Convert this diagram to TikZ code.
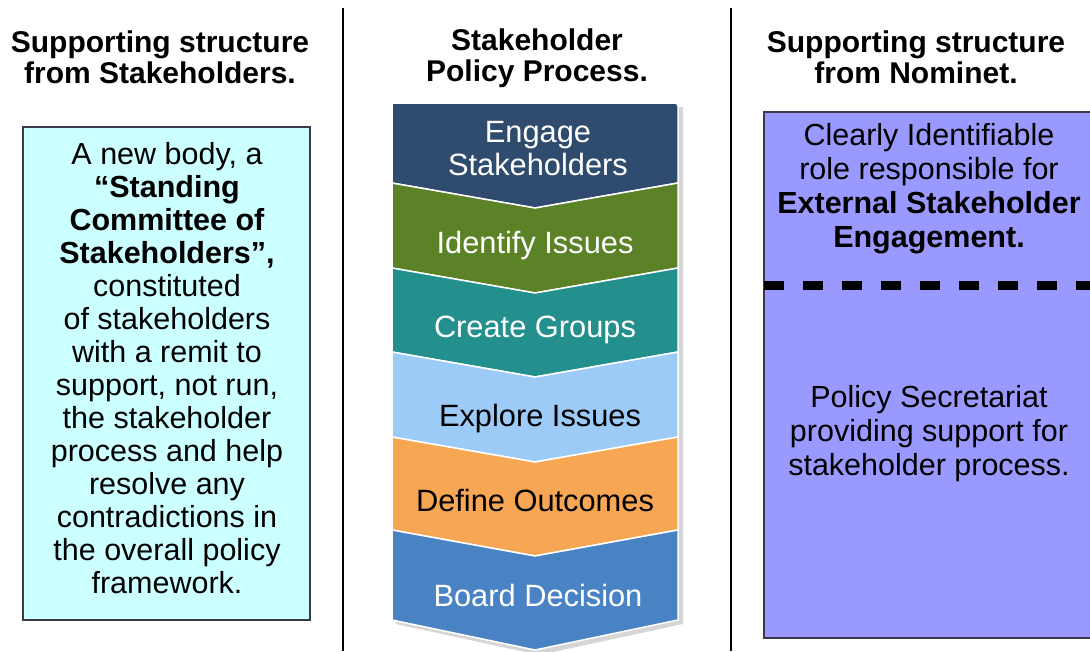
\documentclass[tikz,border=0pt]{standalone}
\usepackage{fontspec}
\setmainfont{Liberation Sans}
\definecolor{cEngage}{HTML}{2F4B6E}
\definecolor{cIdentify}{HTML}{5B8226}
\definecolor{cCreate}{HTML}{23908E}
\definecolor{cExplore}{HTML}{9DCBF8}
\definecolor{cDefine}{HTML}{F7A653}
\definecolor{cBoard}{HTML}{4A83C4}
\definecolor{cLeft}{HTML}{CCFFFF}
\definecolor{cRight}{HTML}{9999FF}
\definecolor{cBorder}{HTML}{3A3A4A}
\begin{document}
\begin{tikzpicture}[x=1pt,y=-1pt,
  hdr/.style={font=\bfseries\fontsize{30}{31}\selectfont, align=center, text=black, inner sep=0pt},
  body/.style={font=\fontsize{30.5}{33}\selectfont, align=center, text=black, inner sep=0pt},
  chevfill/.style={draw=white, line width=1.5pt, line join=miter},
  chevtext/.style={font=\fontsize{30.8}{33}\selectfont, align=center, inner sep=0pt},
  sep/.style={draw=black, line width=1.5pt},
  panel/.style={draw=cBorder, line width=1.2pt}]
\useasboundingbox (0,0) rectangle (1090,651);
\fill[white] (0,0) rectangle (1090,651);

% separators
\draw[sep] (343,8) -- (343,651);
\draw[sep] (731,8) -- (731,651);

% headers
\node[hdr] (h1) at (160,57) {Supporting structure\\from Stakeholders.};
\node[hdr] (h2) at (537,58) {Stakeholder\\Policy Process.};
\node[hdr] (h3) at (916,57) {Supporting structure\\from Nominet.};

% left panel
\draw[panel, fill=cLeft] (23,127) rectangle (310,620);
\node[body] (lefttext) at (167,368) {A new body, a\\\textbf{“Standing}\\\textbf{Committee of}\\\textbf{Stakeholders”,}\\constituted\\of stakeholders\\with a remit to\\support, not run,\\the stakeholder\\process and help\\resolve any\\contradictions in\\the overall policy\\framework.};

% right panel
\draw[panel, fill=cRight] (764,112) rectangle (1094,638);
\draw[black, line width=9pt, dash pattern=on 20pt off 19pt] (764,285) -- (1090,285);
\node[font=\fontsize{30.5}{34}\selectfont, align=center, inner sep=0pt] (role) at (929,189) {Clearly Identifiable\\role responsible for\\\textbf{External Stakeholder}\\\textbf{Engagement.}};
\node[font=\fontsize{30.5}{34}\selectfont, align=center, inner sep=0pt] (secr) at (929,434) {Policy Secretariat\\providing support for\\stakeholder process.};

% chevron shadow
\fill[gray!45, opacity=0.7] (396,107) -- (683,107) -- (683,624) -- (539,655) -- (396,624) -- cycle;

% chevrons
\path[chevfill, fill=cEngage] (392,103) [rounded corners=3pt] -- (678,103) [sharp corners] -- (678,183) -- (535,208) -- (392,183) -- cycle;
\path[chevfill, fill=cIdentify] (392,183) -- (535,208) -- (678,183) -- (678,268) -- (535,293) -- (392,268) -- cycle;
\path[chevfill, fill=cCreate] (392,268) -- (535,293) -- (678,268) -- (678,352) -- (535,377) -- (392,352) -- cycle;
\path[chevfill, fill=cExplore] (392,352) -- (535,377) -- (678,352) -- (678,437) -- (535,462) -- (392,437) -- cycle;
\path[chevfill, fill=cDefine] (392,437) -- (535,462) -- (678,437) -- (678,530) -- (535,556) -- (392,530) -- cycle;
\path[chevfill, fill=cBoard] (392,530) -- (535,556) -- (678,530) -- (678,620) -- (535,650) -- (392,620) -- cycle;

\node[chevtext, text=white] (engage) at (538,149) {Engage\\Stakeholders};
\node[chevtext, text=white] (identify) at (535,246) {Identify Issues};
\node[chevtext, text=white] (create) at (535,330) {Create Groups};
\node[chevtext, text=black] (explore) at (540,419) {Explore Issues};
\node[chevtext, text=black] (define) at (535,500) {Define Outcomes};
\node[chevtext, text=white] (board) at (538,595) {Board Decision};
\end{tikzpicture}
\end{document}
